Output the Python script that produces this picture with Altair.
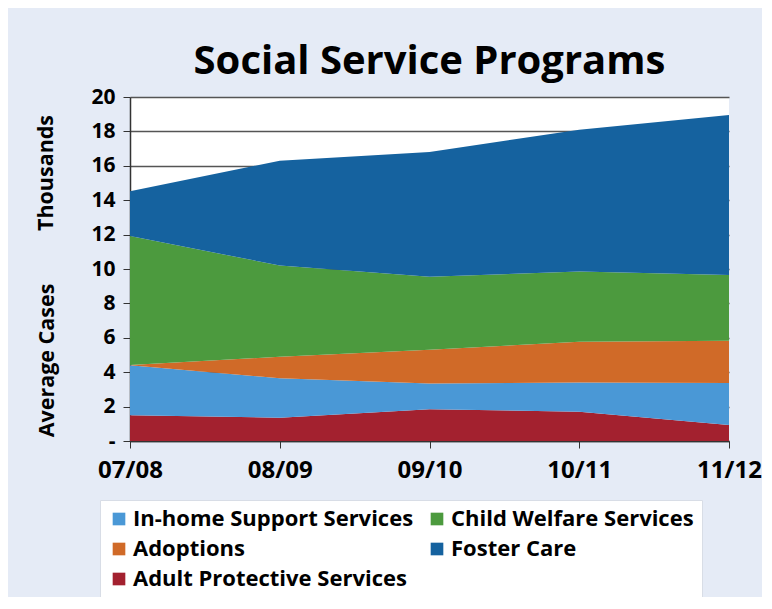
import altair as alt
import pandas as pd

years = ["07/08", "08/09", "09/10", "10/11", "11/12"]

# values in thousands of average cases
adult_protective = [1.50, 1.35, 1.85, 1.70, 0.93]
in_home_support = [2.90, 2.30, 1.50, 1.70, 2.44]
adoptions = [0.02, 1.25, 1.95, 2.37, 2.46]
child_welfare = [7.50, 5.30, 4.25, 4.08, 3.82]
foster_care = [2.60, 6.10, 7.25, 8.25, 9.30]

series = [
    ("Adult Protective Services", adult_protective),
    ("In-home Support Services", in_home_support),
    ("Adoptions", adoptions),
    ("Child Welfare Services", child_welfare),
    ("Foster Care", foster_care),
]

legend_order = [
    "In-home Support Services",
    "Child Welfare Services",
    "Adoptions",
    "Foster Care",
    "Adult Protective Services",
]
legend_colors = ["#4a98d6", "#4c9a3e", "#d06a28", "#15629f", "#a3212f"]

rows = []
for rank, (name, vals) in enumerate(series):
    for yr, v in zip(years, vals):
        rows.append({"year": yr, "program": name, "value": v, "rank": rank})
df = pd.DataFrame(rows)

FONT = "Open Sans"

areas = alt.Chart(df).mark_area(opacity=1).encode(
    x=alt.X(
        "year:O",
        sort=years,
        scale=alt.Scale(type="point", padding=0),
        axis=alt.Axis(
            title=None,
            labelAngle=0,
            labelFont=FONT,
            labelFontSize=24,
            labelFontWeight="bold",
            labelColor="black",
            labelPadding=10,
            tickSize=7,
            tickColor="#333333",
            domainColor="#333333",
            domainWidth=1.5,
            grid=False,
        ),
    ),
    y=alt.Y(
        "value:Q",
        stack="zero",
        scale=alt.Scale(domain=[0, 20], nice=False),
        axis=alt.Axis(
            title="Average Cases",
            titleFont=FONT,
            titleFontSize=21.5,
            titleFontWeight="bold",
            titleColor="black",
            titleX=-83,
            titleY=263,
            titleAlign="center",
            titleBaseline="middle",
            titleAngle=270,
            values=list(range(0, 21, 2)),
            labelExpr="datum.value == 0 ? '-' : datum.label",
            labelFont=FONT,
            labelFontSize=21,
            labelFontWeight="bold",
            labelColor="black",
            labelPadding=8,
            tickSize=7,
            tickColor="#333333",
            domainColor="#333333",
            domainWidth=1.5,
            grid=True,
            gridColor="#555555",
            gridWidth=1.5,
        ),
    ),
    color=alt.Color(
        "program:N",
        scale=alt.Scale(domain=legend_order, range=legend_colors),
        legend=alt.Legend(
            title=None,
            orient="none",
            legendX=-30,
            legendY=403,
            direction="horizontal",
            columns=2,
            columnPadding=12,
            rowPadding=8,
            symbolType="square",
            symbolSize=160,
            symbolStrokeWidth=0,
            labelFont=FONT,
            labelFontSize=22,
            labelFontWeight="bold",
            labelColor="black",
            labelLimit=400,
            labelOffset=3,
            fillColor="white",
            strokeColor="#d8dde6",
            padding=8,
        ),
    ),
    order=alt.Order("rank:Q", sort="ascending"),
)

thousands = alt.Chart(pd.DataFrame({"t": ["Thousands"]})).mark_text(
    angle=270,
    font=FONT,
    fontSize=21.5,
    fontWeight="bold",
    color="black",
    align="center",
    baseline="middle",
).encode(text="t:N", x=alt.value(-83), y=alt.value(76))

chart = (
    alt.layer(areas, thousands)
    .properties(
        width=599,
        height=344,
        title=alt.TitleParams(
            "Social Service Programs",
            font=FONT,
            fontSize=40,
            fontWeight="bold",
            color="black",
            anchor="middle",
            offset=4,
        ),
        background="#e5ebf6",
        autosize=alt.AutoSizeParams(type="none"),
        padding={"left": 122, "top": 89, "right": 33, "bottom": 156},
    )
    .configure_view(fill="white", stroke=None)
)

chart.save("out.html", embed_options={"renderer": "svg", "actions": False})
